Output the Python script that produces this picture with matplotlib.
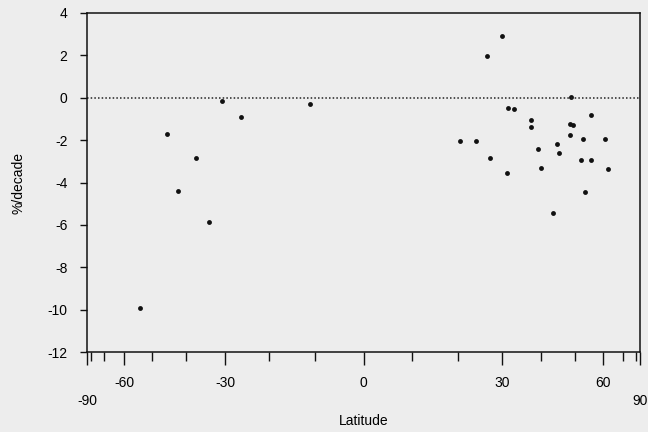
import numpy as np
import matplotlib
matplotlib.use("Agg")
import matplotlib.pyplot as plt

plt.rcParams['font.family'] = ['Liberation Sans', 'DejaVu Sans']
plt.rcParams['axes.unicode_minus'] = False

# station latitude (deg) and trend (%/decade)
lat = [-54.1, -45.3, -42.0, -37.2, -33.9, -30.9, -26.4, -11.1,
       30.0, 26.6, 48.6, 31.4, 32.9, 37.3, 37.4, 55.3, 48.3, 49.4,
       48.4, 52.5, 60.8, 20.5, 23.9, 44.3, 39.1, 45.1, 27.2, 51.8,
       55.3, 40.0, 31.2, 62.1, 53.4, 43.2]
trend = [-9.9, -1.7, -4.4, -2.85, -5.85, -0.15, -0.93, -0.3,
         2.9, 1.95, 0.05, -0.47, -0.55, -1.07, -1.37, -0.8, -1.25, -1.3,
         -1.75, -1.97, -1.93, -2.05, -2.04, -2.16, -2.4, -2.6, -2.86, -2.93,
         -2.93, -3.3, -3.55, -3.38, -4.45, -5.45]

major_lat = [-90, -60, -30, 0, 30, 60, 90]
minor_lat = [-80, -70, -50, -40, -20, -10, 10, 20, 40, 50, 70, 80]


def s(d):
    # x axis is area-weighted: sine of latitude
    return np.sin(np.radians(np.asarray(d, dtype=float)))


bg = '#ededed'
fs = 10
fig = plt.figure(figsize=(6.48, 4.32), dpi=100, facecolor=bg)
ax = fig.add_axes([87/648, 1-352/432, 553/648, 339/432])
ax.set_facecolor(bg)

ax.plot(s(lat), trend, 'o', color='#111111', markersize=3.5, markeredgewidth=0)
ax.axhline(0, color='#222222', linestyle=(0, (1, 1.4)), linewidth=1.1)

ax.set_xlim(-1, 1)
ax.set_ylim(-12, 4)
ax.set_yticks(np.arange(-12, 5, 2))
ax.set_xticks(s(major_lat))
ax.set_xticklabels([str(v) for v in major_lat])
ax.set_xticks(s(minor_lat), minor=True)

ax.tick_params(axis='x', which='major', direction='out', length=9.5, width=1.0,
               pad=8, labelsize=fs, color='#111111')
ax.tick_params(axis='x', which='minor', direction='out', length=6.5, width=1.0,
               color='#111111')
ax.tick_params(axis='y', direction='out', length=5, width=1.0, pad=9,
               labelsize=fs, color='#111111')

for i in (0, -1):
    ax.xaxis.get_major_ticks()[i].set_pad(21)

for sp in ax.spines.values():
    sp.set_linewidth(1.1)
    sp.set_color('#111111')

ax.set_xlabel('Latitude', fontsize=fs, labelpad=4)
ax.set_ylabel('%/decade', fontsize=fs, labelpad=16)

fig.savefig('out.png', dpi=100, facecolor=bg)
